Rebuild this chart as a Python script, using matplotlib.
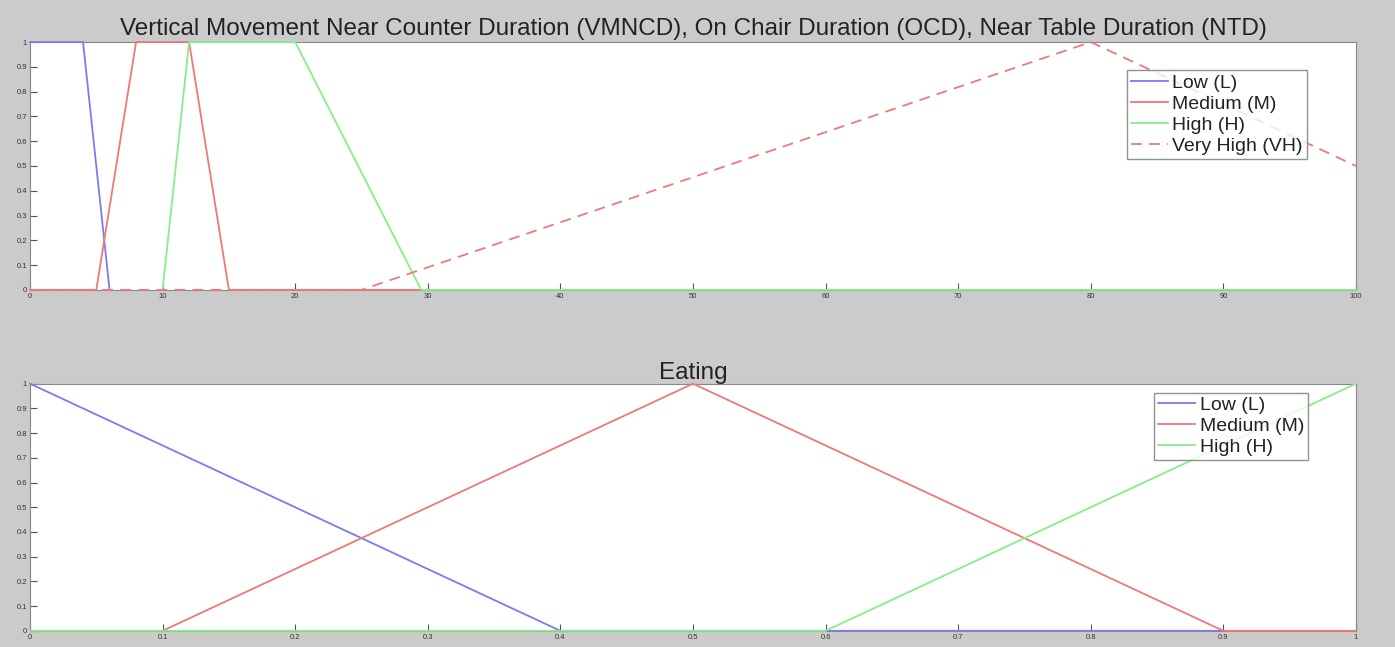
import matplotlib
matplotlib.use("Agg")
import matplotlib.pyplot as plt

plt.rcParams["font.family"] = ["Liberation Sans", "DejaVu Sans"]

# top panel: membership functions over duration 0..100
top_title = "Vertical Movement Near Counter Duration (VMNCD), On Chair Duration (OCD), Near Table Duration (NTD)"
top_low_x = [0, 4, 6]
top_low_y = [1, 1, 0]
top_med_x = [0, 5, 8, 12, 15, 30]
top_med_y = [0, 0, 1, 1, 0, 0]
top_high_x = [10, 12, 20, 29.5, 100]
top_high_y = [0, 1, 1, 0, 0]
top_vh_x = [0, 25, 80, 100]
top_vh_y = [0, 0, 1, 0.5]
top_labels = ["Low (L)", "Medium (M)", "High (H)", "Very High (VH)"]
top_xticks = [0, 10, 20, 30, 40, 50, 60, 70, 80, 90, 100]

# bottom panel: eating 0..1
bot_title = "Eating"
bot_low_x = [0, 0.4, 0.9]
bot_low_y = [1, 0, 0]
bot_med_x = [0.1, 0.5, 0.9, 1.0]
bot_med_y = [0, 1, 0, 0]
bot_high_x = [0, 0.6, 1.0]
bot_high_y = [0, 0, 1]
bot_labels = ["Low (L)", "Medium (M)", "High (H)"]
bot_xticks = [0, 0.1, 0.2, 0.3, 0.4, 0.5, 0.6, 0.7, 0.8, 0.9, 1]

yticks = [0, 0.1, 0.2, 0.3, 0.4, 0.5, 0.6, 0.7, 0.8, 0.9, 1]

blue = "#7b7bf0"
red = "#f07878"
green = "#88ee88"
bg = "#cbcbcb"
lw = 1.3

fig = plt.figure(figsize=(13.95, 6.47), dpi=100, facecolor=bg)
ax1 = fig.add_axes([0.0215, 0.552, 0.9505, 0.383])
ax2 = fig.add_axes([0.0215, 0.025, 0.9505, 0.382])


def style(ax, xticks, xlim):
    ax.set_xlim(*xlim)
    ax.set_ylim(0, 1)
    ax.set_xticks(xticks)
    ax.set_yticks(yticks)
    ax.set_xticklabels([f"{t:g}" for t in xticks])
    ax.set_yticklabels([f"{t:g}" for t in yticks])
    ax.tick_params(direction="in", length=5, width=0.8, labelsize=5.5, color="#555555",
                   labelcolor="#333333", pad=2)
    for s in ax.spines.values():
        s.set_color("#888888")
        s.set_linewidth(0.8)


def legend(ax, anchor):
    leg = ax.legend(loc="upper right", bbox_to_anchor=anchor, fontsize=14,
                    frameon=True, fancybox=False, borderpad=0.2, labelspacing=0.18,
                    handlelength=1.9, handletextpad=0.25, borderaxespad=0)
    leg.get_frame().set_edgecolor("#777777")
    leg.get_frame().set_linewidth(1)
    for t in leg.get_texts():
        t.set_color("#222222")


ax1.plot(top_low_x, top_low_y, color=blue, lw=lw, label=top_labels[0], clip_on=False, zorder=3)
ax1.plot(top_med_x, top_med_y, color=red, lw=lw, label=top_labels[1], clip_on=False, zorder=3)
ax1.plot(top_high_x, top_high_y, color=green, lw=lw, label=top_labels[2], clip_on=False, zorder=3)
ax1.plot(top_vh_x, top_vh_y, color=red, lw=lw, ls=(0, (6, 4)), label=top_labels[3],
         clip_on=False, zorder=3)
style(ax1, top_xticks, (0, 100))
ax1.set_title(top_title, fontsize=17.5, color="#222222", pad=5)
legend(ax1, (0.963, 0.887))

ax2.plot(bot_low_x, bot_low_y, color=blue, lw=lw, label=bot_labels[0], clip_on=False, zorder=3)
ax2.plot(bot_med_x, bot_med_y, color=red, lw=lw, label=bot_labels[1], clip_on=False, zorder=3)
ax2.plot(bot_high_x, bot_high_y, color=green, lw=lw, label=bot_labels[2], clip_on=False, zorder=3)
style(ax2, bot_xticks, (0, 1))
ax2.set_title(bot_title, fontsize=17.5, color="#222222", pad=-2)
legend(ax2, (0.964, 0.964))

fig.savefig("out.png", dpi=100, facecolor=bg)
